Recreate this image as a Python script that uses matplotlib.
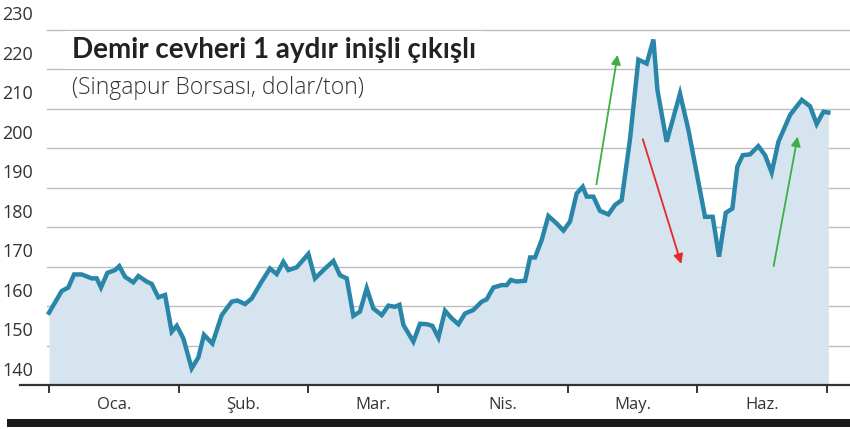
import matplotlib.pyplot as plt

# x in months since start of Jan (month boundaries at integers), price in $/ton
months = [0, .098, .149, .193, .252, .329, .368, .401, .450, .509, .542, .586, .650, .689, .753, .792,
          .843, .895, .946, .985, 1.036, 1.100, 1.152, 1.195, 1.260, 1.332, 1.409, 1.452, 1.512, 1.563,
          1.640, 1.704, 1.756, 1.807, 1.846, 1.910, 2.000, 2.051, 2.129, 2.193, 2.244, 2.296, 2.347,
          2.398, 2.450, 2.501, 2.566, 2.617, 2.668, 2.702, 2.733, 2.810, 2.861, 2.913, 2.956, 3.003,
          3.054, 3.105, 3.157, 3.208, 3.272, 3.337, 3.375, 3.427, 3.491, 3.530, 3.561, 3.607, 3.671,
          3.710, 3.748, 3.799, 3.851, 3.915, 3.967, 4.018, 4.069, 4.116, 4.147, 4.198, 4.249, 4.314,
          4.365, 4.416, 4.481, 4.545, 4.609, 4.661, 4.692, 4.763, 4.866, 4.931, 4.995, 5.059, 5.118,
          5.167, 5.219, 5.270, 5.308, 5.350, 5.406, 5.470, 5.522, 5.573, 5.625, 5.715, 5.805, 5.869,
          5.920, 5.972, 6.010]
prices = [158.3, 163.8, 164.7, 168.0, 168.0, 167.0, 167.0, 164.7, 168.4, 169.1, 170.1, 167.4, 166.0,
          167.6, 166.2, 165.6, 162.2, 162.8, 153.5, 155.0, 151.8, 144.2, 147.0, 152.7, 150.5, 157.7,
          161.1, 161.4, 160.5, 161.9, 166.2, 169.5, 168.1, 171.2, 169.1, 169.8, 173.2, 167.0, 169.5,
          171.4, 167.8, 167.0, 157.5, 158.6, 164.5, 159.4, 157.7, 160.1, 159.8, 160.3, 155.2, 151.0,
          155.5, 155.4, 155.0, 152.0, 158.8, 156.9, 155.4, 158.1, 159.0, 161.1, 161.7, 164.7, 165.3,
          165.3, 166.6, 166.2, 166.4, 172.3, 172.3, 176.7, 182.8, 180.9, 179.1, 181.4, 188.5, 190.2,
          187.7, 187.7, 184.1, 183.2, 185.6, 186.8, 202.4, 222.4, 221.4, 227.5, 214.7, 201.6, 213.8,
          204.6, 193.6, 182.6, 182.6, 172.5, 183.6, 184.7, 195.3, 198.2, 198.4, 200.5, 198.2, 193.8,
          201.6, 208.4, 212.2, 210.6, 206.1, 209.2, 209.0]
month_labels = ['Oca.', 'Şub.', 'Mar.', 'Nis.', 'May.', 'Haz.']
yticks = [140, 150, 160, 170, 180, 190, 200, 210, 220, 230]

LINE = '#2a86a8'
FILL = '#d5e4ef'

fig = plt.figure(figsize=(8.5, 4.29), dpi=100)
ax = fig.add_axes([0, 44 / 429, 1, 385 / 429])
ax.set_xlim(-0.378, 6.177)
ax.set_ylim(140, 237.5)
for s in ax.spines.values():
    s.set_visible(False)
ax.set_xticks([])
ax.set_yticks([])

for v in yticks[1:]:
    ax.plot([-0.015, 6.177], [v, v], color='#bdbdbd', lw=1, zorder=1)
for v in yticks:
    ax.text(-0.36, v + 3.6, str(v), fontsize=13, color='#333333', va='center', ha='left',
            family='Open Sans')

ax.fill_between(months, prices, 140, color=FILL, zorder=2, lw=0)
ax.plot(months, prices, color=LINE, lw=3.2, zorder=3, solid_joinstyle='miter')

# bottom axis with month ticks
ax.plot([-0.22, 6.177], [140, 140], color='#333333', lw=1.6, clip_on=False, zorder=4)
for m in range(7):
    ax.plot([m, m], [140, 138.2], color='#333333', lw=1.4, clip_on=False, zorder=4)
for i, lab in enumerate(month_labels):
    ax.text(i + 0.5, 135, lab, fontsize=12, color='#333333', ha='center', va='center',
            family='Open Sans')

# arrows
arr = dict(arrowstyle='-|>', lw=1.3, mutation_scale=14)
ax.annotate('', xy=(4.388, 224.3), xytext=(4.218, 190.1), arrowprops=dict(color='#3cb043', **arr), zorder=5)
ax.annotate('', xy=(4.882, 170.0), xytext=(4.573, 202.9), arrowprops=dict(color='#e8272a', **arr), zorder=5)
ax.annotate('', xy=(5.777, 203.6), xytext=(5.584, 169.4), arrowprops=dict(color='#3cb043', **arr), zorder=5)

# title block
fig.text(72 / 850, 1 - 50 / 429, 'Demir cevheri 1 aydır inişli çıkışlı', fontsize=20, weight='bold',
         family='Lato', color='#222222', va='center', ha='left',
         bbox=dict(facecolor='white', edgecolor='none', pad=4))
fig.text(72 / 850, 1 - 88 / 429, '(Singapur Borsası, dolar/ton)', fontsize=16.5, weight='light',
         family='Open Sans', color='#333333', va='center', ha='left',
         bbox=dict(facecolor='white', edgecolor='none', pad=3))

# black footer bar
fig.patches.append(plt.Rectangle((7 / 850, 2 / 429), 843 / 850, 8 / 429, transform=fig.transFigure,
                                 facecolor='#1a1a1a', edgecolor='none'))

fig.savefig('out.png', dpi=100)
